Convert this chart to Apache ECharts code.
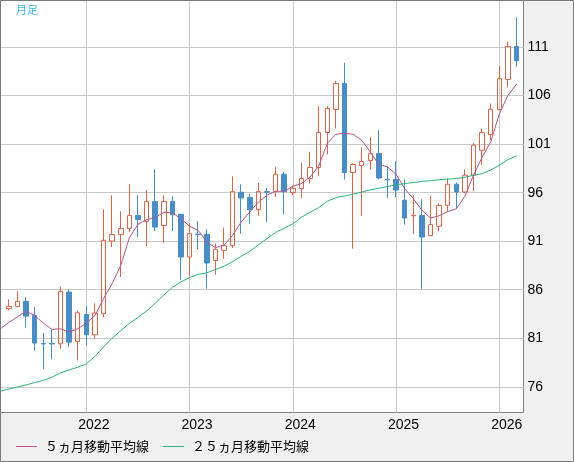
<!DOCTYPE html>
<html><head><meta charset="utf-8">
<style>html,body{margin:0;padding:0;background:#f0f0f0}#c{width:574px;height:462px}</style>
<script src="https://cdn.jsdelivr.net/npm/echarts@6.0.0/dist/echarts.min.js"></script>
</head><body><div id="c"></div>
<script>
const months = [
  '2021-03','2021-04','2021-05','2021-06','2021-07','2021-08','2021-09','2021-10','2021-11','2021-12',
  '2022-01','2022-02','2022-03','2022-04','2022-05','2022-06','2022-07','2022-08','2022-09','2022-10','2022-11','2022-12',
  '2023-01','2023-02','2023-03','2023-04','2023-05','2023-06','2023-07','2023-08','2023-09','2023-10','2023-11','2023-12',
  '2024-01','2024-02','2024-03','2024-04','2024-05','2024-06','2024-07','2024-08','2024-09','2024-10','2024-11','2024-12',
  '2025-01','2025-02','2025-03','2025-04','2025-05','2025-06','2025-07','2025-08','2025-09','2025-10','2025-11','2025-12',
  '2026-01','2026-02','2026-03'
];
// [open, close, low, high]
const candles = [
  ['-','-','-','-'],
  [84.07,84.28,83.87,85.00],[84.28,84.80,84.18,85.83],[84.80,83.28,82.09,85.24],[83.35,80.50,79.74,84.21],
  [80.47,80.41,77.86,81.57],[80.47,80.41,78.81,81.98],[80.43,85.83,79.92,86.27],[85.76,80.60,80.08,86.04],
  [80.67,83.63,78.71,83.80],
  [83.46,81.36,80.26,84.31],[81.36,83.59,80.95,84.59],[83.53,91.09,83.15,94.29],[91.02,91.68,90.40,95.73],
  [91.68,92.30,87.31,94.08],[92.30,93.64,91.95,96.87],[93.64,93.23,91.43,95.73],[93.02,95.08,90.50,96.25],
  [95.08,92.46,92.05,98.41],[92.61,95.08,90.81,95.73],[95.08,93.74,92.05,95.63],[93.77,89.37,87.04,93.82],
  [89.37,91.78,87.38,92.81],[91.73,91.68,90.13,93.08],[91.71,88.75,86.11,92.22],[89.00,90.16,87.55,90.75],
  [90.06,90.54,89.20,92.40],[90.54,96.11,90.30,97.69],[96.04,95.45,91.78,96.87],[95.52,94.25,92.81,95.90],
  [94.25,96.11,93.60,97.00],[96.11,96.04,92.98,96.48],[96.11,97.90,95.55,98.62],[97.90,96.11,93.77,98.14],
  [96.01,96.45,95.73,96.76],[96.42,97.45,95.45,99.06],[97.45,98.59,96.94,100.20],[98.59,102.20,97.72,104.91],
  [102.20,104.67,99.93,104.91],[104.57,107.25,102.61,107.52],[107.25,98.07,97.35,109.38],[98.07,98.90,90.23,99.03],
  [98.79,99.21,93.60,100.68],[99.31,100.03,98.38,101.74],[100.03,97.51,97.38,102.44],[97.38,97.33,95.45,98.72],
  [97.38,96.28,95.55,99.24],[95.22,93.39,92.71,97.38],[93.62,93.67,91.74,95.73],[93.64,91.43,86.11,95.32],
  [91.58,92.71,91.55,95.63],[92.54,94.67,92.02,94.88],[94.70,96.87,94.01,97.45],[96.87,96.07,94.36,97.04],
  [96.07,97.80,95.99,98.38],[97.80,100.89,96.17,101.12],[100.37,102.20,98.83,102.61],[101.99,104.60,101.40,105.19],
  [104.57,107.77,104.50,109.04],[107.67,111.07,106.84,111.55],[111.07,109.59,108.97,114.06]
];
const ma5 = [
  81.97,
  82.63,83.22,83.77,83.35,82.56,81.91,81.98,81.63,81.98,82.56,
  83.35,85.08,86.62,88.51,91.37,92.74,93.23,93.43,93.98,93.91,
  93.33,92.54,92.12,90.92,90.34,90.58,91.61,92.98,94.01,95.04,
  95.73,96.15,96.15,96.66,96.94,97.62,98.72,101.07,102.02,102.10,
  102.02,101.40,100.20,98.90,98.65,97.90,96.42,95.39,94.19,93.39,
  93.62,94.05,94.34,95.63,97.80,99.65,101.23,104.12,106.02,107.18
];
const ma25 = [
  75.54,
  75.77,75.98,76.19,76.44,76.65,76.99,77.44,77.73,78.02,78.35,
  79.13,80.11,81.00,81.78,82.53,83.15,83.80,84.61,85.45,86.24,
  86.81,87.25,87.58,87.74,88.08,88.41,88.89,89.44,89.96,90.63,
  91.27,91.92,92.33,92.79,93.46,93.98,94.46,95.11,95.49,95.66,
  95.84,96.06,96.29,96.46,96.64,96.80,96.94,97.04,97.16,97.24,
  97.33,97.41,97.45,97.59,97.80,97.95,98.34,98.83,99.39,99.81
];
const yTicks = [76,81,86,91,96,101,106,111];
const seriesNames = ['５ヵ月移動平均線','２５ヵ月移動平均線'];
const yMin = 73.35, yMax = 115.8;

const RED = '#d9664a', BLUE = '#4a8cc4', PINK = '#b4558c', GREEN = '#2db37a';
const isJan = (i, v) => String(v).endsWith('-01');
const chart = echarts.init(document.getElementById('c'));
chart.setOption({
  animation: false,
  backgroundColor: '#f0f0f0',
  title: {text: '月足', left: 16, top: 4, padding: 0,
    textStyle: {fontSize: 11, fontWeight: 'normal', color: '#38b8ee', fontFamily: 'Noto Sans CJK JP'}},
  legend: {left: 16, top: 440, padding: 0, itemWidth: 21, itemHeight: 1, itemGap: 14, icon: 'rect', data: seriesNames,
    textStyle: {fontSize: 13, color: '#000', fontFamily: 'Noto Sans CJK JP', padding: [0, 0, 0, 3]}},
  graphic: [{type: 'rect', silent: true, z: 100,
    shape: {x: 0.5, y: 0.5, width: 573, height: 461},
    style: {fill: 'none', stroke: '#7a7a7a', lineWidth: 1}}],
  grid: [
    {left: 0.5, top: 0.5, width: 523, height: 412, show: true, backgroundColor: '#fff', borderColor: '#808080', borderWidth: 1},
    {left: 0.3, top: 0.5, width: 516.24, height: 412, show: false}
  ],
  xAxis: [
    {gridIndex: 0, type: 'value', show: false, min: 0, max: 1},
    {gridIndex: 1, type: 'category', data: months, boundaryGap: false,
      axisLine: {show: false}, axisTick: {show: false},
      axisLabel: {interval: isJan, formatter: v => v.slice(0, 4), fontSize: 14, color: '#000',
        fontFamily: 'Liberation Sans', margin: 6, padding: [0, 0, 0, 15]},
      splitLine: {show: true, interval: isJan, lineStyle: {color: '#c8c8c8', width: 1}}}
  ],
  yAxis: [
    {gridIndex: 0, type: 'value', position: 'right', min: yMin, max: yMax,
      axisLine: {show: false}, axisTick: {show: false, customValues: yTicks},
      axisLabel: {customValues: yTicks, fontSize: 14, color: '#000', fontFamily: 'Liberation Sans', margin: 4},
      splitLine: {show: true, lineStyle: {color: '#c8c8c8', width: 1}}},
    {gridIndex: 1, type: 'value', show: false, min: yMin, max: yMax, splitLine: {show: false}}
  ],
  series: [
    {type: 'candlestick', xAxisIndex: 1, yAxisIndex: 1, data: candles, barWidth: 5, clip: false,
      itemStyle: {color: 'rgba(255,255,255,0)', color0: BLUE, borderColor: RED, borderColor0: BLUE, borderWidth: 1}},
    {name: seriesNames[0], type: 'line', xAxisIndex: 1, yAxisIndex: 1, data: ma5, symbol: 'none',
      lineStyle: {color: PINK, width: 1}, itemStyle: {color: PINK}},
    {name: seriesNames[1], type: 'line', xAxisIndex: 1, yAxisIndex: 1, data: ma25, symbol: 'none',
      lineStyle: {color: GREEN, width: 1}, itemStyle: {color: GREEN}}
  ]
});
</script></body></html>
